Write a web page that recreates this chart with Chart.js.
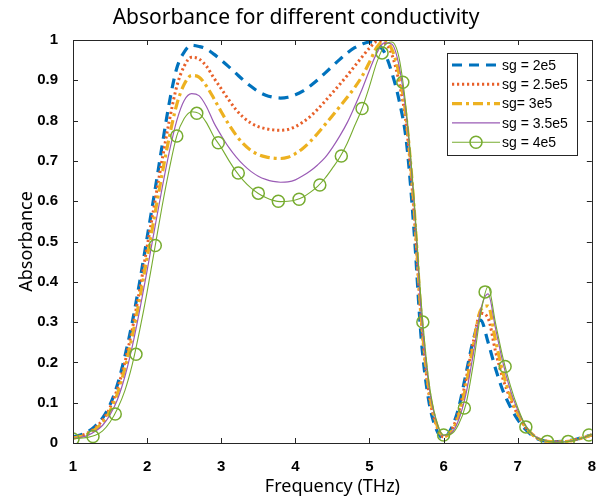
<!DOCTYPE html>
<html>
<head>
<meta charset="utf-8">
<script src="https://cdn.jsdelivr.net/npm/chart.js@4.4.1/dist/chart.umd.min.js"></script>
<style>
html,body{margin:0;padding:0;background:#fff;}
#wrap{width:603px;height:498px;position:relative;}
</style>
</head>
<body>
<div id="wrap"><canvas id="c" width="603" height="498"></canvas></div>
<script>
// ---- data ----
const freq = [1.0,1.1,1.2,1.3,1.4,1.5,1.6,1.7,1.8,1.9,2.0,2.1,2.2,2.3,2.4,2.5,2.6,2.7,2.8,2.9,
  3.0,3.1,3.2,3.3,3.4,3.5,3.6,3.7,3.8,3.9,4.0,4.1,4.2,4.3,4.4,4.5,4.6,4.7,4.8,4.9,
  5.0,5.1,5.2,5.3,5.4,5.5,5.6,5.7,5.8,5.9,6.0,6.1,6.2,6.3,6.4,6.5,6.6,6.7,6.8,6.9,
  7.0,7.1,7.2,7.3,7.4,7.5,7.6,7.7,7.8,7.9,8.0];

const sg2e5 = [0.015,0.020,0.028,0.042,0.062,0.095,0.145,0.215,0.300,0.400,
  0.510,0.620,0.735,0.845,0.930,0.970,0.987,0.984,0.978,0.965,
  0.950,0.934,0.917,0.900,0.885,0.872,0.863,0.858,0.856,0.858,
  0.864,0.873,0.886,0.901,0.918,0.935,0.952,0.968,0.981,0.990,
  0.995,0.990,0.970,0.920,0.850,0.745,0.530,0.255,0.105,0.035,
  0.012,0.035,0.085,0.170,0.255,0.305,0.250,0.185,0.130,0.090,
  0.058,0.035,0.018,0.008,0.004,0.003,0.004,0.006,0.010,0.015,0.020];

const sg25e5 = [0.013,0.018,0.025,0.038,0.057,0.088,0.135,0.200,0.283,0.380,
  0.487,0.593,0.700,0.800,0.885,0.935,0.957,0.953,0.935,0.906,
  0.879,0.852,0.827,0.808,0.794,0.785,0.780,0.777,0.776,0.778,
  0.785,0.796,0.810,0.828,0.848,0.869,0.890,0.912,0.935,0.958,
  0.980,0.996,0.993,0.965,0.895,0.785,0.575,0.300,0.125,0.045,
  0.015,0.030,0.075,0.155,0.250,0.322,0.310,0.228,0.160,0.110,
  0.070,0.040,0.020,0.009,0.004,0.003,0.003,0.005,0.009,0.014,0.020];

const sg3e5 = [0.012,0.016,0.022,0.034,0.051,0.080,0.123,0.185,0.265,0.358,
  0.460,0.563,0.665,0.760,0.840,0.890,0.912,0.908,0.886,0.855,
  0.822,0.791,0.764,0.742,0.726,0.716,0.710,0.707,0.706,0.709,
  0.718,0.731,0.748,0.768,0.790,0.812,0.835,0.858,0.882,0.910,
  0.945,0.982,0.998,0.978,0.915,0.800,0.590,0.310,0.135,0.050,
  0.017,0.027,0.065,0.140,0.240,0.330,0.340,0.255,0.175,0.118,
  0.074,0.042,0.021,0.009,0.004,0.003,0.003,0.005,0.009,0.014,0.020];

const sg35e5 = [0.011,0.014,0.019,0.029,0.044,0.070,0.108,0.165,0.240,0.330,
  0.428,0.530,0.630,0.723,0.800,0.850,0.867,0.862,0.835,0.795,
  0.763,0.734,0.710,0.690,0.674,0.662,0.654,0.649,0.647,0.648,
  0.653,0.663,0.675,0.690,0.708,0.733,0.762,0.795,0.835,0.878,
  0.925,0.968,0.993,0.990,0.935,0.808,0.597,0.320,0.145,0.055,
  0.019,0.024,0.056,0.120,0.220,0.330,0.370,0.285,0.200,0.132,
  0.082,0.045,0.022,0.010,0.004,0.003,0.003,0.005,0.008,0.014,0.021];

const sg4e5 = [0.010,0.012,0.014,0.019,0.030,0.052,0.085,0.130,0.195,0.280,
  0.375,0.480,0.585,0.680,0.762,0.805,0.822,0.818,0.795,0.760,
  0.733,0.702,0.674,0.651,0.633,0.619,0.609,0.602,0.599,0.600,
  0.603,0.610,0.622,0.637,0.657,0.682,0.709,0.744,0.787,0.830,
  0.885,0.945,0.985,0.995,0.955,0.820,0.610,0.345,0.155,0.058,
  0.020,0.022,0.045,0.095,0.195,0.320,0.388,0.298,0.212,0.143,
  0.088,0.045,0.021,0.009,0.004,0.002,0.002,0.004,0.008,0.014,0.022];

// markers on the sg = 4e5 curve
const markerFreq = [1.00,1.27,1.57,1.85,2.11,2.40,2.67,2.96,3.23,3.50,3.77,4.05,4.33,
  4.62,4.90,5.17,5.45,5.72,6.00,6.28,6.56,6.83,7.11,7.40,7.68,7.96];
const markerVal = [0.010,0.016,0.072,0.220,0.490,0.762,0.818,0.745,0.670,0.620,0.600,0.605,0.640,
  0.712,0.830,0.968,0.895,0.300,0.020,0.087,0.375,0.190,0.040,0.004,0.004,0.020];

const seriesLabels = ['sg = 2e5','sg = 2.5e5','sg= 3e5','sg = 3.5e5','sg = 4e5'];
const xTicks = [1,2,3,4,5,6,7,8];
const yTicks = [0,0.1,0.2,0.3,0.4,0.5,0.6,0.7,0.8,0.9,1];

// ---- styles ----
const styles = [
  {color:'#0072BD', width:3.2, dash:[10,7], cap:'butt'},
  {color:'#E8602A', width:3.0, dash:[2.2,2.8], cap:'butt'},
  {color:'#EDB120', width:3.2, dash:[10,4,3,4], cap:'butt'},
  {color:'#9A5BB5', width:1.2, dash:[], cap:'butt'},
  {color:'#77AC30', width:1.1, dash:[], cap:'butt'}
];
const seriesData = [sg2e5, sg25e5, sg3e5, sg35e5, sg4e5];

const toXY = (xs, ys) => xs.map((x,i)=>({x:x, y:ys[i]}));

const datasets = seriesData.map((vals,i)=>({
  label: seriesLabels[i],
  data: toXY(freq, vals),
  borderColor: styles[i].color,
  borderWidth: styles[i].width,
  borderDash: styles[i].dash,
  borderCapStyle: styles[i].cap,
  pointRadius: 0,
  fill: false,
  cubicInterpolationMode: 'monotone',
  order: 5 - i
}));
datasets.push({
  label: 'markers',
  data: toXY(markerFreq, markerVal),
  showLine: false,
  pointStyle: 'circle',
  pointRadius: 6,
  pointBorderWidth: 1.5,
  pointBorderColor: '#77AC30',
  pointBackgroundColor: 'rgba(0,0,0,0)',
  order: 0
});

const tickFont = {family:"'Liberation Sans', Arial, sans-serif", size:15, weight:'bold'};
const axisColor = '#262626';

const frameAndTicks = {
  id:'frameAndTicks',
  afterDatasetsDraw(chart){
    const {ctx, chartArea:a, scales:{x,y}} = chart;
    ctx.save();
    ctx.strokeStyle = axisColor;
    ctx.lineWidth = 1;
    const L = 5;
    ctx.beginPath();
    xTicks.forEach(v=>{
      const px = Math.round(x.getPixelForValue(v))+0.5;
      ctx.moveTo(px, a.bottom); ctx.lineTo(px, a.bottom-L);
      ctx.moveTo(px, a.top); ctx.lineTo(px, a.top+L);
    });
    yTicks.forEach(v=>{
      const py = Math.round(y.getPixelForValue(v))+0.5;
      ctx.moveTo(a.left, py); ctx.lineTo(a.left+L, py);
      ctx.moveTo(a.right, py); ctx.lineTo(a.right-L, py);
    });
    ctx.stroke();
    ctx.strokeRect(Math.round(a.left)+0.5, Math.round(a.top)+0.5, Math.round(a.right-a.left), Math.round(a.bottom-a.top));
    ctx.restore();
  },
  afterDraw(chart){
    // legend box
    const {ctx} = chart;
    const bx = 447, by = 53, bw = 130, bh = 102;
    ctx.save();
    ctx.fillStyle = '#fff';
    ctx.fillRect(bx, by, bw, bh);
    ctx.strokeStyle = axisColor;
    ctx.lineWidth = 1;
    ctx.strokeRect(bx+0.5, by+0.5, bw, bh);
    ctx.font = "14px 'Liberation Sans', Arial, sans-serif";
    ctx.textBaseline = 'middle';
    ctx.fillStyle = '#000';
    seriesLabels.forEach((lab,i)=>{
      const yy = by + 12 + i*19.3;
      const st = styles[i];
      ctx.save();
      ctx.strokeStyle = st.color;
      ctx.lineWidth = st.width;
      ctx.setLineDash(st.dash);
      ctx.lineCap = st.cap;
      ctx.beginPath();
      ctx.moveTo(452, yy); ctx.lineTo(500, yy);
      ctx.stroke();
      ctx.restore();
      if (i === 4) {
        ctx.save();
        ctx.strokeStyle = st.color; ctx.lineWidth = 1.5;
        ctx.beginPath(); ctx.arc(476, yy, 6, 0, Math.PI*2); ctx.stroke();
        ctx.restore();
      }
      ctx.fillText(lab, 502, yy+1);
    });
    ctx.restore();
  }
};

new Chart(document.getElementById('c'), {
  type: 'line',
  data: { datasets },
  plugins: [frameAndTicks],
  options: {
    responsive: false,
    animation: false,
    events: [],
    layout: { padding: { left: 0, right: 11, top: 0, bottom: 0 } },
    plugins: {
      legend: { display: false },
      tooltip: { enabled: false },
      title: {
        display: true,
        text: 'Absorbance for different conductivity',
        color: '#000',
        font: { family: "'Noto Sans', 'Open Sans', sans-serif", size: 21, weight: 'normal' },
        padding: { top: 5, bottom: 9.8 }
      }
    },
    scales: {
      x: {
        type: 'linear', min: 1, max: 8,
        afterBuildTicks(s){ s.ticks = xTicks.map(v=>({value:v})); },
        afterFit(s){ s.height = 55; },
        grid: { display: false },
        border: { display: false },
        ticks: { color: '#000', font: tickFont, padding: 7, maxRotation: 0,
          callback: v => String(v) },
        title: { display: true, text: 'Frequency (THz)', color: '#000',
          font: { family: "'Noto Sans', 'Open Sans', sans-serif", size: 18, weight: 'normal' },
          padding: { top: 11, bottom: 0 } }
      },
      y: {
        type: 'linear', min: 0, max: 1,
        afterBuildTicks(s){ s.ticks = yTicks.map(v=>({value:v})); },
        afterFit(s){ s.width = 73; },
        grid: { display: false },
        border: { display: false },
        ticks: { color: '#000', font: tickFont, padding: 7,
          callback: v => String(Number(v.toFixed(1))) },
        title: { display: true, text: 'Absorbance', color: '#000',
          font: { family: "'Noto Sans', 'Open Sans', sans-serif", size: 18, weight: 'normal' },
          padding: { top: 16, bottom: 0 } }
      }
    }
  }
});
</script>
</body>
</html>
